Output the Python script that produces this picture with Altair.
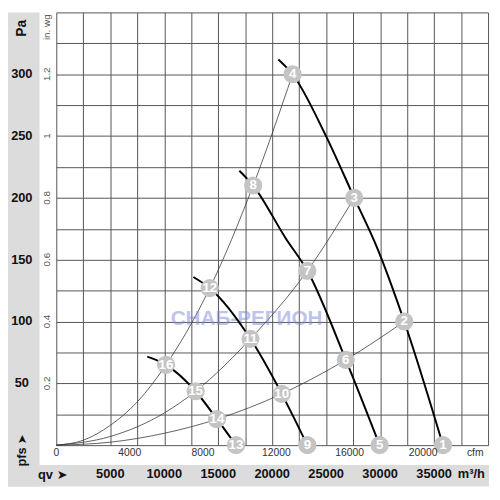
import altair as alt
import pandas as pd

# ---- data (flow in m3/h, static pressure in Pa) ----
# fan (speed) curves: start point, marker points and a few intermediate points
fan1_q = [20575, 21890, 24932, 27607, 29800, 32237, 35826]
fan1_p = [312, 300, 251, 200, 158, 100, 0]
fan2_q = [16958, 18237, 21277, 23260, 26822, 29954]
fan2_p = [222, 210, 167, 141, 69, 0]
fan3_q = [12694, 14219, 17990, 20886, 23260]
fan3_p = [136, 127, 86, 41.5, 0]
fan4_q = [8430, 10164, 12904, 14886, 16648]
fan4_p = [71.6, 65, 43.6, 21, 0]

# system curves (thin lines from origin)
sysA_q = [0, 2500, 5000, 7500, 10164, 14219, 18237, 21890]
sysA_p = [0, 4, 16, 35, 65, 127, 210, 300]
sysB_q = [0, 5000, 10000, 12904, 17990, 23260, 27607]
sysB_p = [0, 7, 26, 43.6, 86, 141, 200]
sysC_q = [0, 5000, 10000, 14886, 20886, 26822, 32237]
sysC_p = [0, 2.4, 9.6, 21, 41.5, 69, 100]

# numbered operating points
pt_label = [str(i) for i in range(1, 17)]
pt_q = [35826, 32237, 27607, 21890, 29954, 26822, 23260, 18237,
        23260, 20886, 17990, 14219, 16648, 14886, 12904, 10164]
pt_p = [0, 100, 200, 300, 0, 69, 141, 210,
        0, 41.5, 86, 127, 0, 21, 43.6, 65]

# axis tick labels
pa_ticks = [50, 100, 150, 200, 250, 300]
inwg_labels = ["0.2", "0.4", "0.6", "0.8", "1", "1.2"]
m3h_ticks = [5000, 10000, 15000, 20000, 25000, 30000, 35000]
cfm_ticks = [0, 4000, 8000, 12000, 16000, 20000]
CFM_TO_M3H = 1.699

XMAX, YMAX = 40000, 350
FONT = "Liberation Sans"
GRID = "#555555"
GRAY = "#dcdcdc"


def xenc(field):
    return alt.X(field, type="quantitative",
                 scale=alt.Scale(domain=[0, XMAX], nice=False, zero=False),
                 axis=alt.Axis(values=list(range(0, XMAX + 1, 2500)), grid=True,
                               labels=False, ticks=False, domain=False, title=None,
                               gridColor=GRID, gridWidth=1, gridOpacity=1))


def yenc(field):
    return alt.Y(field, type="quantitative",
                 scale=alt.Scale(domain=[0, YMAX], nice=False, zero=False),
                 axis=alt.Axis(values=list(range(0, YMAX + 1, 25)), grid=True,
                               labels=False, ticks=False, domain=False, title=None,
                               gridColor=GRID, gridWidth=1, gridOpacity=1))


fan_rows = []
for name, qs, ps in [("f1", fan1_q, fan1_p), ("f2", fan2_q, fan2_p),
                     ("f3", fan3_q, fan3_p), ("f4", fan4_q, fan4_p)]:
    for i, (q, p) in enumerate(zip(qs, ps)):
        fan_rows.append({"curve": name, "q": q, "p": p, "o": i})
fan_df = pd.DataFrame(fan_rows)

sys_rows = []
for name, qs, ps in [("A", sysA_q, sysA_p), ("B", sysB_q, sysB_p), ("C", sysC_q, sysC_p)]:
    for i, (q, p) in enumerate(zip(qs, ps)):
        sys_rows.append({"curve": name, "q": q, "p": p, "o": i})
sys_df = pd.DataFrame(sys_rows)

pts_df = pd.DataFrame({"label": pt_label, "q": pt_q, "p": pt_p})
pa_df = pd.DataFrame({"p": pa_ticks, "label": [str(v) for v in pa_ticks]})
inwg_df = pd.DataFrame({"p": pa_ticks, "label": inwg_labels})
m3h_df = pd.DataFrame({"q": m3h_ticks, "label": [str(v) for v in m3h_ticks]})
cfm_df = pd.DataFrame({"q": [v * CFM_TO_M3H for v in cfm_ticks],
                       "label": [str(v) for v in cfm_ticks]})

one = pd.DataFrame({"a": [0]})

# gray frame (outside the plot area)
bg_left = alt.Chart(one).mark_rect(color=GRAY, clip=False).encode(
    x=alt.value(-49), x2=alt.value(-17), y=alt.value(0), y2=alt.value(481))
bg_bottom = alt.Chart(one).mark_rect(color=GRAY, clip=False).encode(
    x=alt.value(-49), x2=alt.value(439), y=alt.value(459), y2=alt.value(481))

grid_base = alt.Chart(sys_df).mark_line(strokeWidth=0.8, color="#3a3a3a",
                                         interpolate="monotone").encode(
    x=xenc("q"), y=yenc("p"), detail="curve:N", order="o:Q")

fan = alt.Chart(fan_df).mark_line(strokeWidth=2, color="#000000",
                                  interpolate="monotone").encode(
    x=xenc("q"), y=yenc("p"), detail="curve:N", order="o:Q")

watermark = alt.Chart(one).mark_text(
    text="СНАБ-РЕГИОН", font=FONT, fontSize=21, fontWeight="bold",
    color="#7f88d8", opacity=0.5).encode(x=alt.value(193), y=alt.value(311))

circles = alt.Chart(pts_df).mark_circle(size=340, color="#c4c4c4", opacity=1,
                                        clip=False).encode(
    x=xenc("q"), y=yenc("p"))
circ_text = alt.Chart(pts_df).mark_text(font=FONT, fontSize=13.5, fontWeight="bold",
                                        color="white", baseline="middle",
                                        align="center").encode(
    x=xenc("q"), y=yenc("p"), text="label:N")

pa_text = alt.Chart(pa_df).mark_text(font=FONT, fontSize=13, fontWeight="bold",
                                     color="#111111", align="center",
                                     baseline="middle").encode(
    x=alt.value(-35), y=yenc("p"), text="label:N")
inwg_text = alt.Chart(inwg_df).mark_text(font=FONT, fontSize=10, color="#555555",
                                         angle=270, align="center",
                                         baseline="middle").encode(
    x=alt.value(-9), y=yenc("p"), text="label:N")
m3h_text = alt.Chart(m3h_df).mark_text(font=FONT, fontSize=13, fontWeight="bold",
                                       color="#111111", align="center",
                                       baseline="middle").encode(
    x=xenc("q"), y=alt.value(468.5), text="label:N")
cfm_text = alt.Chart(cfm_df).mark_text(font=FONT, fontSize=10.5, color="#333333",
                                       align="center", baseline="middle").encode(
    x=xenc("q"), y=alt.value(447.5), text="label:N")

def lbl(text, x, y, size, weight="normal", angle=0, color="#111111", font=FONT):
    kw = dict(text=text, font=font, fontSize=size, fontWeight=weight, color=color,
              align="center", baseline="middle")
    if angle:
        kw["angle"] = angle
    return alt.Chart(one).mark_text(**kw).encode(x=alt.value(x), y=alt.value(y))

labels = [
    lbl("Pa", -35, 16, 14, "bold", 270),
    lbl("in. wg", -9, 15, 10, "normal", 270, "#555555"),
    lbl("pfs", -35, 451, 13, "bold", 270),
    lbl("➤", -35, 433, 12, "normal", 270, "#111111", "DejaVu Sans"),
    lbl("qv", -11, 469, 13, "bold"),
    lbl("➤", 6, 469, 13, "normal", 0, "#111111", "DejaVu Sans"),
    lbl("m³/h", 421, 468.5, 13, "bold"),
    lbl("cfm", 425, 447.5, 10.5, "normal", 0, "#333333"),
]

chart = alt.layer(bg_left, bg_bottom, grid_base, watermark, fan, circles, circ_text,
                  pa_text, inwg_text, m3h_text, cfm_text, *labels).properties(
    width=438, height=439,
    autosize=alt.AutoSizeParams(type="none"),
    padding={"left": 49, "top": 1, "right": 4, "bottom": 42},
).configure_view(stroke="transparent")

chart.save("out.html", embed_options={"renderer": "svg", "actions": False})
